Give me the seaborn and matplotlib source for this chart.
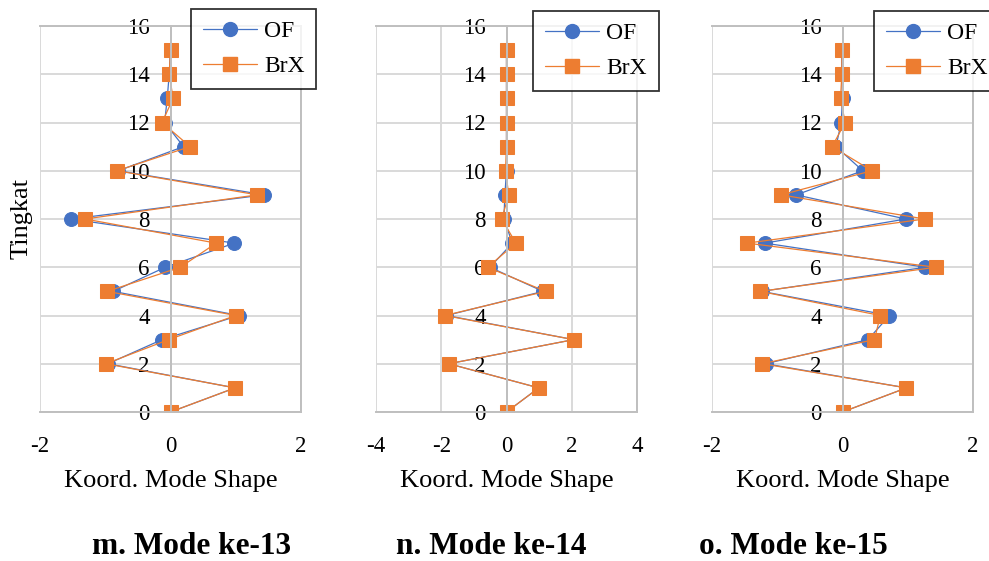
import numpy as np
import pandas as pd
import seaborn as sns
import matplotlib.pyplot as plt
from matplotlib.lines import Line2D

sns.set_style("white")
plt.rcParams['font.family'] = ['Liberation Serif', 'DejaVu Serif']
plt.rcParams['text.color'] = 'black'
plt.rcParams['axes.labelcolor'] = 'black'
plt.rcParams['xtick.color'] = 'black'
plt.rcParams['ytick.color'] = 'black'

levels = list(range(0, 16))

of_13 = [0.0, 0.99, -0.96, -0.13, 1.05, -0.88, -0.08, 0.98, -1.52, 1.44, -0.80, 0.20, -0.09, -0.05, -0.02, 0.0]
brx_13 = [0.0, 0.99, -0.99, -0.03, 1.00, -0.97, 0.15, 0.70, -1.31, 1.33, -0.82, 0.30, -0.13, 0.04, -0.02, 0.0]

of_14 = [0.0, 0.99, -1.77, 2.06, -1.84, 1.12, -0.51, 0.18, -0.08, -0.05, 0.0, 0.0, 0.0, 0.0, 0.0, 0.0]
brx_14 = [0.0, 0.99, -1.77, 2.06, -1.89, 1.20, -0.58, 0.29, -0.15, 0.07, -0.03, 0.0, 0.0, 0.0, 0.0, 0.0]

of_15 = [0.0, 0.98, -1.18, 0.39, 0.72, -1.24, 1.27, -1.19, 0.97, -0.71, 0.31, -0.10, -0.02, 0.0, -0.01, -0.01]
brx_15 = [0.0, 0.98, -1.23, 0.49, 0.58, -1.26, 1.43, -1.46, 1.26, -0.94, 0.45, -0.16, 0.04, -0.03, -0.01, -0.01]

titles = ["m. Mode ke-13", "n. Mode ke-14", "o. Mode ke-15"]
xlims = [(-2, 2), (-4, 4), (-2, 2)]
xticks = [[-2, 0, 2], [-4, -2, 0, 2, 4], [-2, 0, 2]]
series = [(of_13, brx_13), (of_14, brx_14), (of_15, brx_15)]
yticks = [0, 2, 4, 6, 8, 10, 12, 14, 16]

BLUE = '#4472C4'
ORANGE = '#ED7D31'
W, H = 989, 561

fig = plt.figure(figsize=(W / 100, H / 100), dpi=100)

ax_lefts = [40, 376, 712]
ax_w = 261
ax_top, ax_bot = 26, 412
leg_pos = [(191, 9), (533, 11), (874, 11)]
title_x = [192, 491, 793]

for i in range(3):
    ax = fig.add_axes([ax_lefts[i] / W, 1 - ax_bot / H, ax_w / W, (ax_bot - ax_top) / H])
    of_vals, brx_vals = series[i]
    df = pd.DataFrame({'level': levels + levels,
                       'value': of_vals + brx_vals,
                       'series': ['OF'] * len(levels) + ['BrX'] * len(levels)})
    sns.lineplot(data=df[df.series == 'OF'], x='value', y='level', orient='y', sort=False,
                 color=BLUE, marker='o', markersize=10, linewidth=0.9,
                 markeredgecolor=BLUE, ax=ax, legend=False)
    sns.lineplot(data=df[df.series == 'BrX'], x='value', y='level', orient='y', sort=False,
                 color=ORANGE, marker='s', markersize=10, linewidth=0.9,
                 markeredgecolor=ORANGE, ax=ax, legend=False)
    ax.set_xlim(*xlims[i])
    ax.set_ylim(0, 16)
    ax.set_xticks(xticks[i])
    ax.set_yticks(yticks)
    ax.set_xticklabels([str(t) for t in xticks[i]])
    ax.set_yticklabels([str(t) for t in yticks])
    ax.grid(True, color='#d9d9d9', linewidth=1.4, zorder=0)
    ax.set_axisbelow(True)
    ax.spines['left'].set_position(('data', 0))
    for s in ['left', 'right', 'top', 'bottom']:
        ax.spines[s].set_color('#bfbfbf')
        ax.spines[s].set_linewidth(1.4)
    ax.tick_params(axis='both', length=0, labelsize=16.5, colors='black')
    ax.tick_params(axis='y', pad=15)
    ax.tick_params(axis='x', pad=17)
    ax.set_xlabel('Koord. Mode Shape', fontsize=19, labelpad=10, color='black')
    ax.set_ylabel('')
    handles = [Line2D([0], [0], color=BLUE, marker='o', markersize=10, linewidth=0.9),
               Line2D([0], [0], color=ORANGE, marker='s', markersize=10, linewidth=0.9)]
    lx, ly = leg_pos[i]
    leg = fig.legend(handles, ['OF', 'BrX'], loc='upper left',
                     bbox_to_anchor=(lx / W, 1 - ly / H), fontsize=17,
                     frameon=True, fancybox=False, edgecolor='black',
                     handlelength=2.3, handletextpad=0.3, labelspacing=0.55,
                     borderpad=0.5, borderaxespad=0)
    leg.get_frame().set_linewidth(1.3)
    for t in leg.get_texts():
        t.set_color('black')
    fig.text(title_x[i] / W, 1 - 546 / H, titles[i], fontsize=22.5, fontweight='bold',
             ha='center', va='center', color='black')

fig.text(22 / W, 1 - 218 / H, 'Tingkat', fontsize=19, rotation=90, ha='center', va='center',
         color='black')

fig.savefig('out.png', dpi=100)
